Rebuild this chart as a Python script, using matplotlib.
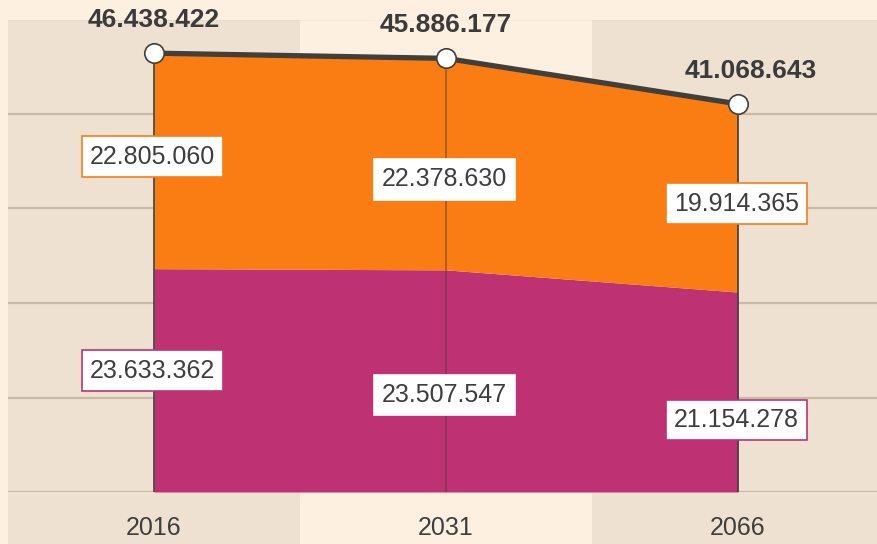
import matplotlib.pyplot as plt
import numpy as np

# data
years = ["2016", "2031", "2066"]
magenta_vals = [23633362, 23507547, 21154278]
orange_vals = [22805060, 22378630, 19914365]
totals = [46438422, 45886177, 41068643]

ORANGE = "#fa7d14"
MAGENTA = "#be3274"
DARK = "#403f3c"
BG = "#fdf0e1"
BAND = "#efe1d1"
GRID = "#c9b9a6"

def fmt(v):
    return f"{v:,}".replace(",", ".")

plt.rcParams['font.family'] = ['Liberation Sans', 'DejaVu Sans']

fig = plt.figure(figsize=(8.77, 5.44), dpi=100)
fig.patch.set_facecolor(BG)
ax = fig.add_axes([8 / 877, 52 / 544, 876 / 877, 472.5 / 544])
ax.set_facecolor("none")
ax.set_xlim(-0.5, 2.5)
ax.set_ylim(0, 50e6)

# background bands (extend down behind the year labels)
for i in (0, 2):
    ax.axvspan(i - 0.5, i + 0.5, ymin=-52 / 472.5, ymax=1, color=BAND,
               zorder=0, clip_on=False, lw=0)

ax.set_yticks(np.arange(0, 50e6 + 1, 10e6))
ax.yaxis.grid(True, color=GRID, lw=1.6)
ax.set_axisbelow(True)
ax.set_yticklabels([])
ax.tick_params(axis="y", length=0)
for s in ax.spines.values():
    s.set_visible(False)

x = np.arange(len(years))
mag = np.array(magenta_vals)
ora = np.array(orange_vals)
tot = np.array(totals)

ax.fill_between(x, 0, mag, color=MAGENTA, lw=0, zorder=2)
ax.fill_between(x, mag, tot, color=ORANGE, lw=0, zorder=2)

# vertical dividers
for i in x:
    a = 0.45 if i == 1 else 0.85
    ax.plot([i, i], [0, tot[i]], color=DARK, lw=1.4, alpha=a, zorder=3)

ax.plot(x, tot, color=DARK, lw=3.8, zorder=4, solid_capstyle="butt")
ax.plot(x, tot, "o", ms=14, mfc="white", mec=DARK, mew=1.2, zorder=5)

# totals
xoff = [0, 0, 9]
for i in x:
    ax.annotate(fmt(totals[i]), (i, tot[i]), xytext=(xoff[i], 24),
                textcoords="offset points", ha="center", va="center",
                fontsize=19, fontweight="bold", color="#3b3b3b", zorder=6)

# boxed series labels
o_off = [3, -11, -4]
m_off = [7, -10, -20]
for i in x:
    edge_o = "white" if i == 1 else ORANGE
    edge_m = "white" if i == 1 else MAGENTA
    ax.annotate(fmt(orange_vals[i]), (i, mag[i] + ora[i] / 2),
                xytext=(-1, o_off[i]), textcoords="offset points",
                ha="center", va="center", fontsize=18, color="#3e3e3e",
                bbox=dict(boxstyle="square,pad=0.33", fc="white",
                          ec=edge_o, lw=1.2), zorder=6)
    ax.annotate(fmt(magenta_vals[i]), (i, mag[i] / 2),
                xytext=(-1, m_off[i]), textcoords="offset points",
                ha="center", va="center", fontsize=18, color="#3e3e3e",
                bbox=dict(boxstyle="square,pad=0.33", fc="white",
                          ec=edge_m, lw=1.2), zorder=6)

ax.set_xticks(x)
ax.set_xticklabels(years, fontsize=18, color="#3e3e3e")
ax.tick_params(axis="x", length=0, pad=17)

fig.savefig("out.png", dpi=100, facecolor=BG)
